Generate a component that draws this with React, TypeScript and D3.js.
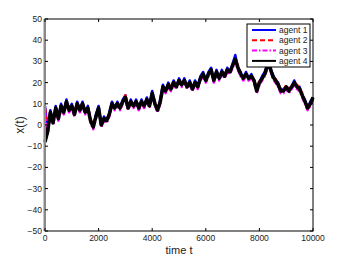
import React, { useEffect, useRef } from "react";
import * as d3 from "d3";

// time grid (every 100 steps)
const times = d3.range(0, 10001, 100);

// agent trajectories
const agent4 = [-8, -3, 6, 1, 8, 3, 9, 6, 11, 7, 9, 5, 10, 7, 10, 6, 8, 2, -1, 4,
  8, 0, 3, 2, 5, 10, 8, 10, 8, 11, 13, 8, 11, 9, 11, 8, 11, 9, 12, 9,
  15, 10, 7, 11, 18, 16, 19, 17, 20, 18, 21, 19, 21, 18, 20, 17, 20, 18, 22, 24,
  21, 24, 26, 21, 25, 22, 25, 23, 26, 25, 28, 31, 27, 24, 22, 24, 22, 23, 21, 16,
  20, 22, 24, 28, 27, 23, 21, 19, 16, 16, 18, 16, 18, 20, 18, 17, 14, 11, 8, 10, 13];
const agent1 = [9, -4, 7, 1, 9, 3, 10, 6, 12, 7, 10, 5, 11, 7, 11, 6, 9, 2, -1, 5,
  9, 0, 4, 2, 6, 11, 8, 11, 8, 12, 14, 8, 12, 9, 12, 8, 12, 9, 13, 9,
  16, 10, 7, 12, 19, 16, 20, 17, 21, 18, 22, 19, 22, 18, 21, 17, 21, 18, 23, 25,
  21, 25, 27, 21, 26, 22, 26, 23, 27, 25, 29, 33, 27, 25, 22, 25, 22, 24, 21, 17,
  20, 23, 25, 29, 27, 24, 21, 20, 16, 17, 18, 17, 18, 21, 18, 18, 14, 12, 8, 11, 13];
const agent2 = [8, -2, 6, 2, 8, 4, 9, 7, 11, 8, 9, 6, 10, 8, 10, 7, 8, 3, -1, 4,
  8, -1, 3, 3, 5, 10, 9, 10, 9, 11, 14, 9, 11, 10, 11, 9, 11, 10, 12, 10,
  15, 11, 7, 11, 18, 17, 19, 18, 21, 18, 21, 20, 21, 19, 20, 18, 20, 19, 22, 24,
  22, 24, 26, 22, 25, 23, 25, 24, 26, 26, 28, 31, 28, 24, 23, 24, 23, 23, 22, 16,
  21, 22, 24, 28, 28, 23, 22, 19, 17, 16, 19, 16, 18, 20, 19, 17, 15, 11, 7, 10, 13];
const agent3 = [6, -4, 5, 0, 7, 2, 8, 5, 10, 6, 8, 4, 9, 6, 9, 5, 7, 1, -2, 3,
  7, -1, 2, 1, 4, 9, 7, 9, 7, 10, 12, 7, 10, 8, 10, 7, 10, 8, 11, 8,
  14, 9, 6, 10, 17, 15, 18, 16, 19, 17, 20, 18, 20, 17, 19, 16, 19, 17, 21, 23,
  20, 23, 25, 20, 24, 21, 24, 22, 25, 24, 27, 30, 26, 23, 21, 23, 21, 22, 20, 15,
  19, 21, 23, 27, 26, 22, 20, 18, 15, 15, 17, 15, 17, 19, 17, 16, 13, 10, 7, 9, 12];

const agentNames = ["agent 1", "agent 2", "agent 3", "agent 4"];
const agentColors = ["#0000ff", "#ff0000", "#ff00ff", "#000000"];
const agentDashes = ["none", "5,3", "5,2,1.5,2", "none"];
const agentWidths = [2.5, 2.5, 2.5, 3.5];

const xTicks = [0, 2000, 4000, 6000, 8000, 10000];
const yTicks = [-50, -40, -30, -20, -10, 0, 10, 20, 30, 40, 50];

const App = () => {
  const ref = useRef<SVGSVGElement | null>(null);

  useEffect(() => {
    const svg = d3.select(ref.current);
    svg.selectAll("*").remove();

    const left = 45, right = 313, top = 19, bottom = 231;
    const x = d3.scaleLinear().domain([0, 10000]).range([left, right]);
    const y = d3.scaleLinear().domain([-50, 50]).range([bottom, top]);
    const font = "'Liberation Sans', Arial, sans-serif";

    svg.append("rect").attr("width", 346).attr("height", 260).attr("fill", "#fff");

    // series
    const line = d3.line<number>()
      .x((_, i) => x(times[i]))
      .y(d => y(d));
    [agent1, agent2, agent3, agent4].forEach((vals, i) => {
      svg.append("path")
        .attr("d", line(vals))
        .attr("fill", "none")
        .attr("stroke", agentColors[i])
        .attr("stroke-width", agentWidths[i])
        .attr("stroke-dasharray", agentDashes[i])
        .attr("stroke-linejoin", "round");
    });

    // box + ticks
    const axis = svg.append("g").attr("stroke", "#000").attr("stroke-width", 1);
    axis.append("rect")
      .attr("x", left).attr("y", top)
      .attr("width", right - left).attr("height", bottom - top)
      .attr("fill", "none");
    axis.append("rect")
      .attr("x", left - 1.5).attr("y", top)
      .attr("width", 2.5).attr("height", bottom - top)
      .attr("fill", "#8a8a8a").attr("stroke", "none");

    xTicks.forEach(t => {
      axis.append("line").attr("x1", x(t)).attr("x2", x(t)).attr("y1", bottom).attr("y2", bottom - 3);
      axis.append("line").attr("x1", x(t)).attr("x2", x(t)).attr("y1", top).attr("y2", top + 3);
    });
    yTicks.forEach(v => {
      axis.append("line").attr("x1", left).attr("x2", left + 3).attr("y1", y(v)).attr("y2", y(v));
      axis.append("line").attr("x1", right).attr("x2", right - 3).attr("y1", y(v)).attr("y2", y(v));
    });

    svg.append("g")
      .selectAll("text")
      .data(xTicks)
      .join("text")
      .attr("x", d => x(d))
      .attr("y", bottom + 9.5)
      .attr("text-anchor", "middle")
      .style("font", `8.5px ${font}`)
      .attr("fill", "#222")
      .text(d => String(d));

    svg.append("g")
      .selectAll("text")
      .data(yTicks)
      .join("text")
      .attr("x", left - 3)
      .attr("y", d => y(d) + 3)
      .attr("text-anchor", "end")
      .style("font", `8.5px ${font}`)
      .attr("fill", "#222")
      .text(d => (d < 0 ? "\u2212" + Math.abs(d) : String(d)));

    svg.append("text")
      .attr("x", (left + right) / 2)
      .attr("y", 254)
      .attr("text-anchor", "middle")
      .style("font", `11px ${font}`)
      .attr("fill", "#222")
      .text("time t");

    svg.append("text")
      .attr("transform", `translate(24,${(top + bottom) / 2}) rotate(-90)`)
      .attr("text-anchor", "middle")
      .style("font", `12px ${font}`)
      .attr("fill", "#222")
      .text("x(t)");

    // legend
    const lg = svg.append("g");
    lg.append("rect")
      .attr("x", 247).attr("y", 24)
      .attr("width", 63).attr("height", 43)
      .attr("fill", "#fff").attr("stroke", "#000").attr("stroke-width", 1);
    agentNames.forEach((name, i) => {
      const ly = 30 + i * 10.3;
      lg.append("line")
        .attr("x1", 252).attr("x2", 276)
        .attr("y1", ly).attr("y2", ly)
        .attr("stroke", agentColors[i])
        .attr("stroke-width", 2)
        .attr("stroke-dasharray", agentDashes[i]);
      lg.append("text")
        .attr("x", 279).attr("y", ly + 3)
        .style("font", `8.5px ${font}`)
        .attr("fill", "#222")
        .text(name);
    });
  }, []);

  return (
    <div style={{ position: "fixed", left: 0, top: 0 }}>
      <svg ref={ref} width={346} height={260} style={{ display: "block" }} />
    </div>
  );
};

export default App;
